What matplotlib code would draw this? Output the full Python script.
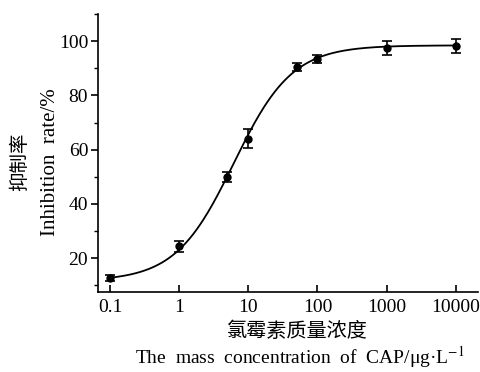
import numpy as np
import matplotlib
matplotlib.use("Agg")
import matplotlib.pyplot as plt
from matplotlib.ticker import FixedLocator, NullLocator

plt.rcParams['font.family'] = ['Liberation Serif', 'Noto Sans CJK SC']
plt.rcParams['mathtext.fontset'] = 'stix'

# data
conc = [0.1, 1, 5, 10, 50, 100, 1000, 10000]
inhibition = [12.6, 24.3, 49.8, 64.0, 90.5, 93.4, 97.5, 98.2]
err = [1.0, 2.0, 1.8, 3.5, 1.5, 1.5, 2.5, 2.5]
xticks = [0.1, 1, 10, 100, 1000, 10000]
xticklabels = ['0.1', '1', '10', '100', '1000', '10000']
yticks = [20, 40, 60, 80, 100]


def logistic(x, bottom, top, ec50, hill):
    return bottom + (top - bottom) / (1 + (ec50 / x) ** hill)


# weighted four-parameter logistic fit (grid over ec50/hill, linear solve for bottom/top)
x = np.array(conc)
y = np.array(inhibition)
w = 1 / np.array(err)
best = None
for lec in np.linspace(0, 1.5, 151):
    for hill in np.linspace(0.5, 2.0, 151):
        f = 1 / (1 + (10 ** lec / x) ** hill)
        A = np.column_stack([1 - f, f])
        coef, *_ = np.linalg.lstsq(A * w[:, None], y * w, rcond=None)
        res = np.sum(((A @ coef - y) * w) ** 2)
        if best is None or res < best[0]:
            best = (res, coef[0], coef[1], 10 ** lec, hill)
_, bottom, top, ec50, hill = best

fig = plt.figure(figsize=(4.8, 3.72), dpi=100)
ax = fig.add_axes([0.204, 0.215, 0.792, 0.747])

xs = np.logspace(-1, 4, 300)
ax.plot(xs, logistic(xs, bottom, top, ec50, hill), color='black', lw=1.3)
ax.errorbar(conc, inhibition, yerr=err, fmt='o', color='black', ms=5,
            capsize=3.5, elinewidth=1.2, capthick=1.2)

ax.set_xscale('log')
ax.set_xlim(0.067, 21000)
ax.set_ylim(7.5, 109.5)
ax.xaxis.set_major_locator(FixedLocator(xticks))
ax.xaxis.set_minor_locator(NullLocator())
ax.set_xticklabels(xticklabels)
ax.set_yticks(yticks)
ax.set_yticks([10, 30, 50, 70, 90, 110], minor=True)

ax.spines['top'].set_visible(False)
ax.spines['right'].set_visible(False)
for s in ['left', 'bottom']:
    ax.spines[s].set_linewidth(1.2)
ax.tick_params(axis='x', direction='in', length=5, width=1.2, labelsize=14, pad=5)
ax.tick_params(axis='y', direction='out', length=5, width=1.2, labelsize=14, pad=2)
ax.tick_params(axis='y', which='minor', direction='out', length=3, width=1.0)

fig.text(0.042, 0.565, '抑制率', rotation=90, ha='center', va='center', fontsize=14,
         family=['Noto Sans CJK SC'])
fig.text(0.105, 0.565, 'Inhibition  rate/%', rotation=90, ha='center', va='center',
         fontsize=15)
fig.text(0.62, 0.108, '氯霉素质量浓度', ha='center', va='center', fontsize=14.5,
         family=['Noto Sans CJK SC'])
fig.text(0.625, 0.04, 'The  mass  concentration  of  CAP/μg·L$^{-1}$', ha='center',
         va='center', fontsize=14)

fig.savefig('out.png', dpi=100)
